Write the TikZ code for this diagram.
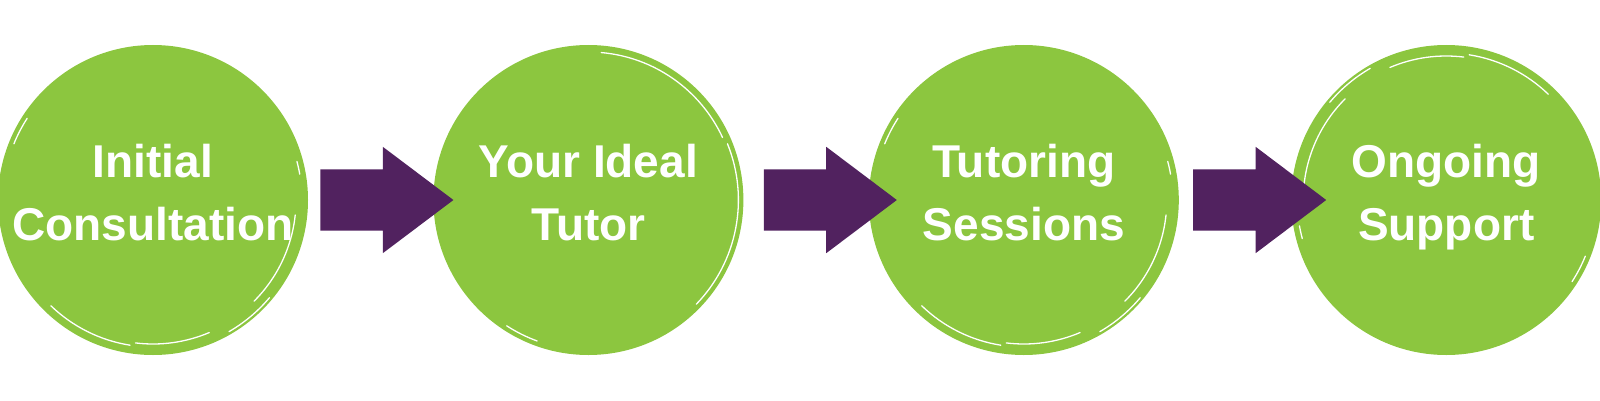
\documentclass[tikz,border=0pt]{standalone}
\usepackage{fontspec}
\setmainfont{Liberation Sans}
\usetikzlibrary{calc, positioning, shapes.arrows}
\definecolor{leafgreen}{HTML}{8CC63F}
\definecolor{plum}{HTML}{51225F}

\begin{document}
\begin{tikzpicture}[
    x=1pt, y=1pt,
    blob/.style={
        circle,
        fill=leafgreen,
        minimum size=310pt,
        inner sep=0pt,
        align=center,
        text=white,
        text depth=16pt,
        font=\fontsize{46pt}{63pt}\selectfont\bfseries
    },
    bigarrow/.style={
        single arrow,
        fill=plum,
        minimum height=133pt,
        inner xsep=0pt,
        inner ysep=30.5pt,
        single arrow head extend=22.5pt,
        single arrow tip angle=74
    },
    streak/.style={white, line width=1.3pt, line cap=round}
]
\useasboundingbox (0,0) rectangle (1600,400);

% Painted circles
\node[blob] (init) at (153,200) {Initial\\Consultation};
\node[blob, right=125pt of init] (ideal) {Your Ideal\\Tutor};
\node[blob, right=125pt of ideal] (sess) {Tutoring\\Sessions};
\node[blob, right=112pt of sess] (supp) {Ongoing\\Support};

% Brush marks
\foreach \blob/\turn in {init/0, sess/0, supp/180} {
  \foreach \from/\to/\rad in {158/147/150, -6/-45/143, -134/-99/147, -97/-67/144, -60/-40/152, 10/15/149} {
    \draw[streak] ($(\blob)+(\from+\turn:\rad)$) arc[start angle=\from+\turn, end angle=\to+\turn, radius=\rad];
  }
}
\foreach \from/\to/\rad in {85/25/148, 22/-44/150, -123/-110/150} {
  \draw[streak] ($(ideal)+(\from:\rad)$) arc[start angle=\from, end angle=\to, radius=\rad];
}

% Arrows
\node[bigarrow, right=12pt of init] (arrA) {};
\node[bigarrow, right=20pt of ideal] (arrB) {};
\node[bigarrow, right=14pt of sess] (arrC) {};

\end{tikzpicture}
\end{document}
